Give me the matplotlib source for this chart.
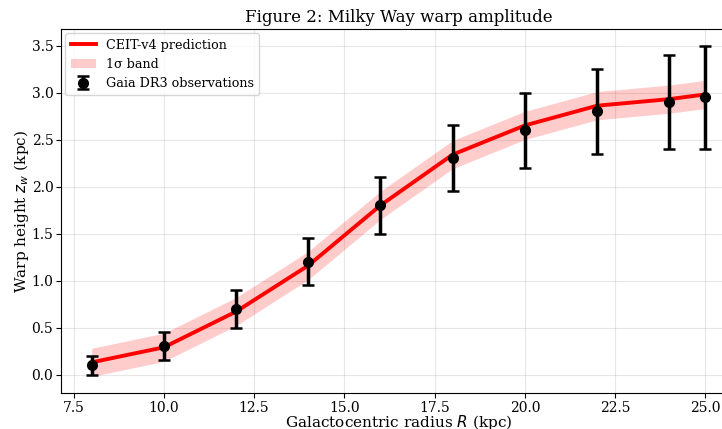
import matplotlib
matplotlib.use("Agg")
import matplotlib.pyplot as plt
import numpy as np

plt.rcParams['font.family'] = ['DejaVu Serif']

# Data
radius = [8, 10, 12, 14, 16, 18, 20, 22, 24, 25]
warp_obs = [0.10, 0.30, 0.70, 1.20, 1.80, 2.30, 2.60, 2.80, 2.90, 2.95]
warp_err = [0.10, 0.15, 0.20, 0.25, 0.30, 0.35, 0.40, 0.45, 0.50, 0.55]
model = [0.13, 0.29, 0.67, 1.16, 1.80, 2.34, 2.65, 2.86, 2.93, 2.98]
band_halfwidth = 0.15

fig = plt.figure(figsize=(7.22, 4.29), dpi=100)
ax = fig.add_axes([61/722, 36/429, 675/722, 364/429])

m = np.array(model)
ax.plot(radius, model, color='red', lw=2.8, label='CEIT-v4 prediction', zorder=3)
ax.fill_between(radius, m - band_halfwidth, m + band_halfwidth, color='red', alpha=0.2,
                lw=0, label='1σ band', zorder=2)
ax.errorbar(radius, warp_obs, yerr=warp_err, fmt='o', color='black', ms=7,
            elinewidth=2.5, capsize=4, capthick=1.8, label='Gaia DR3 observations', zorder=4)

ax.grid(True, alpha=0.3)
ax.set_xlabel('Galactocentric radius $R$ (kpc)', fontsize=11, labelpad=-1)
ax.set_ylabel('Warp height $z_w$ (kpc)', fontsize=11, labelpad=0)
ax.set_title('Figure 2: Milky Way warp amplitude', fontsize=12, pad=5)
ax.tick_params(labelsize=10, pad=2)
ax.legend(loc='upper left', fontsize=9.2, borderaxespad=0.35)

fig.savefig('out.png', dpi=100)
